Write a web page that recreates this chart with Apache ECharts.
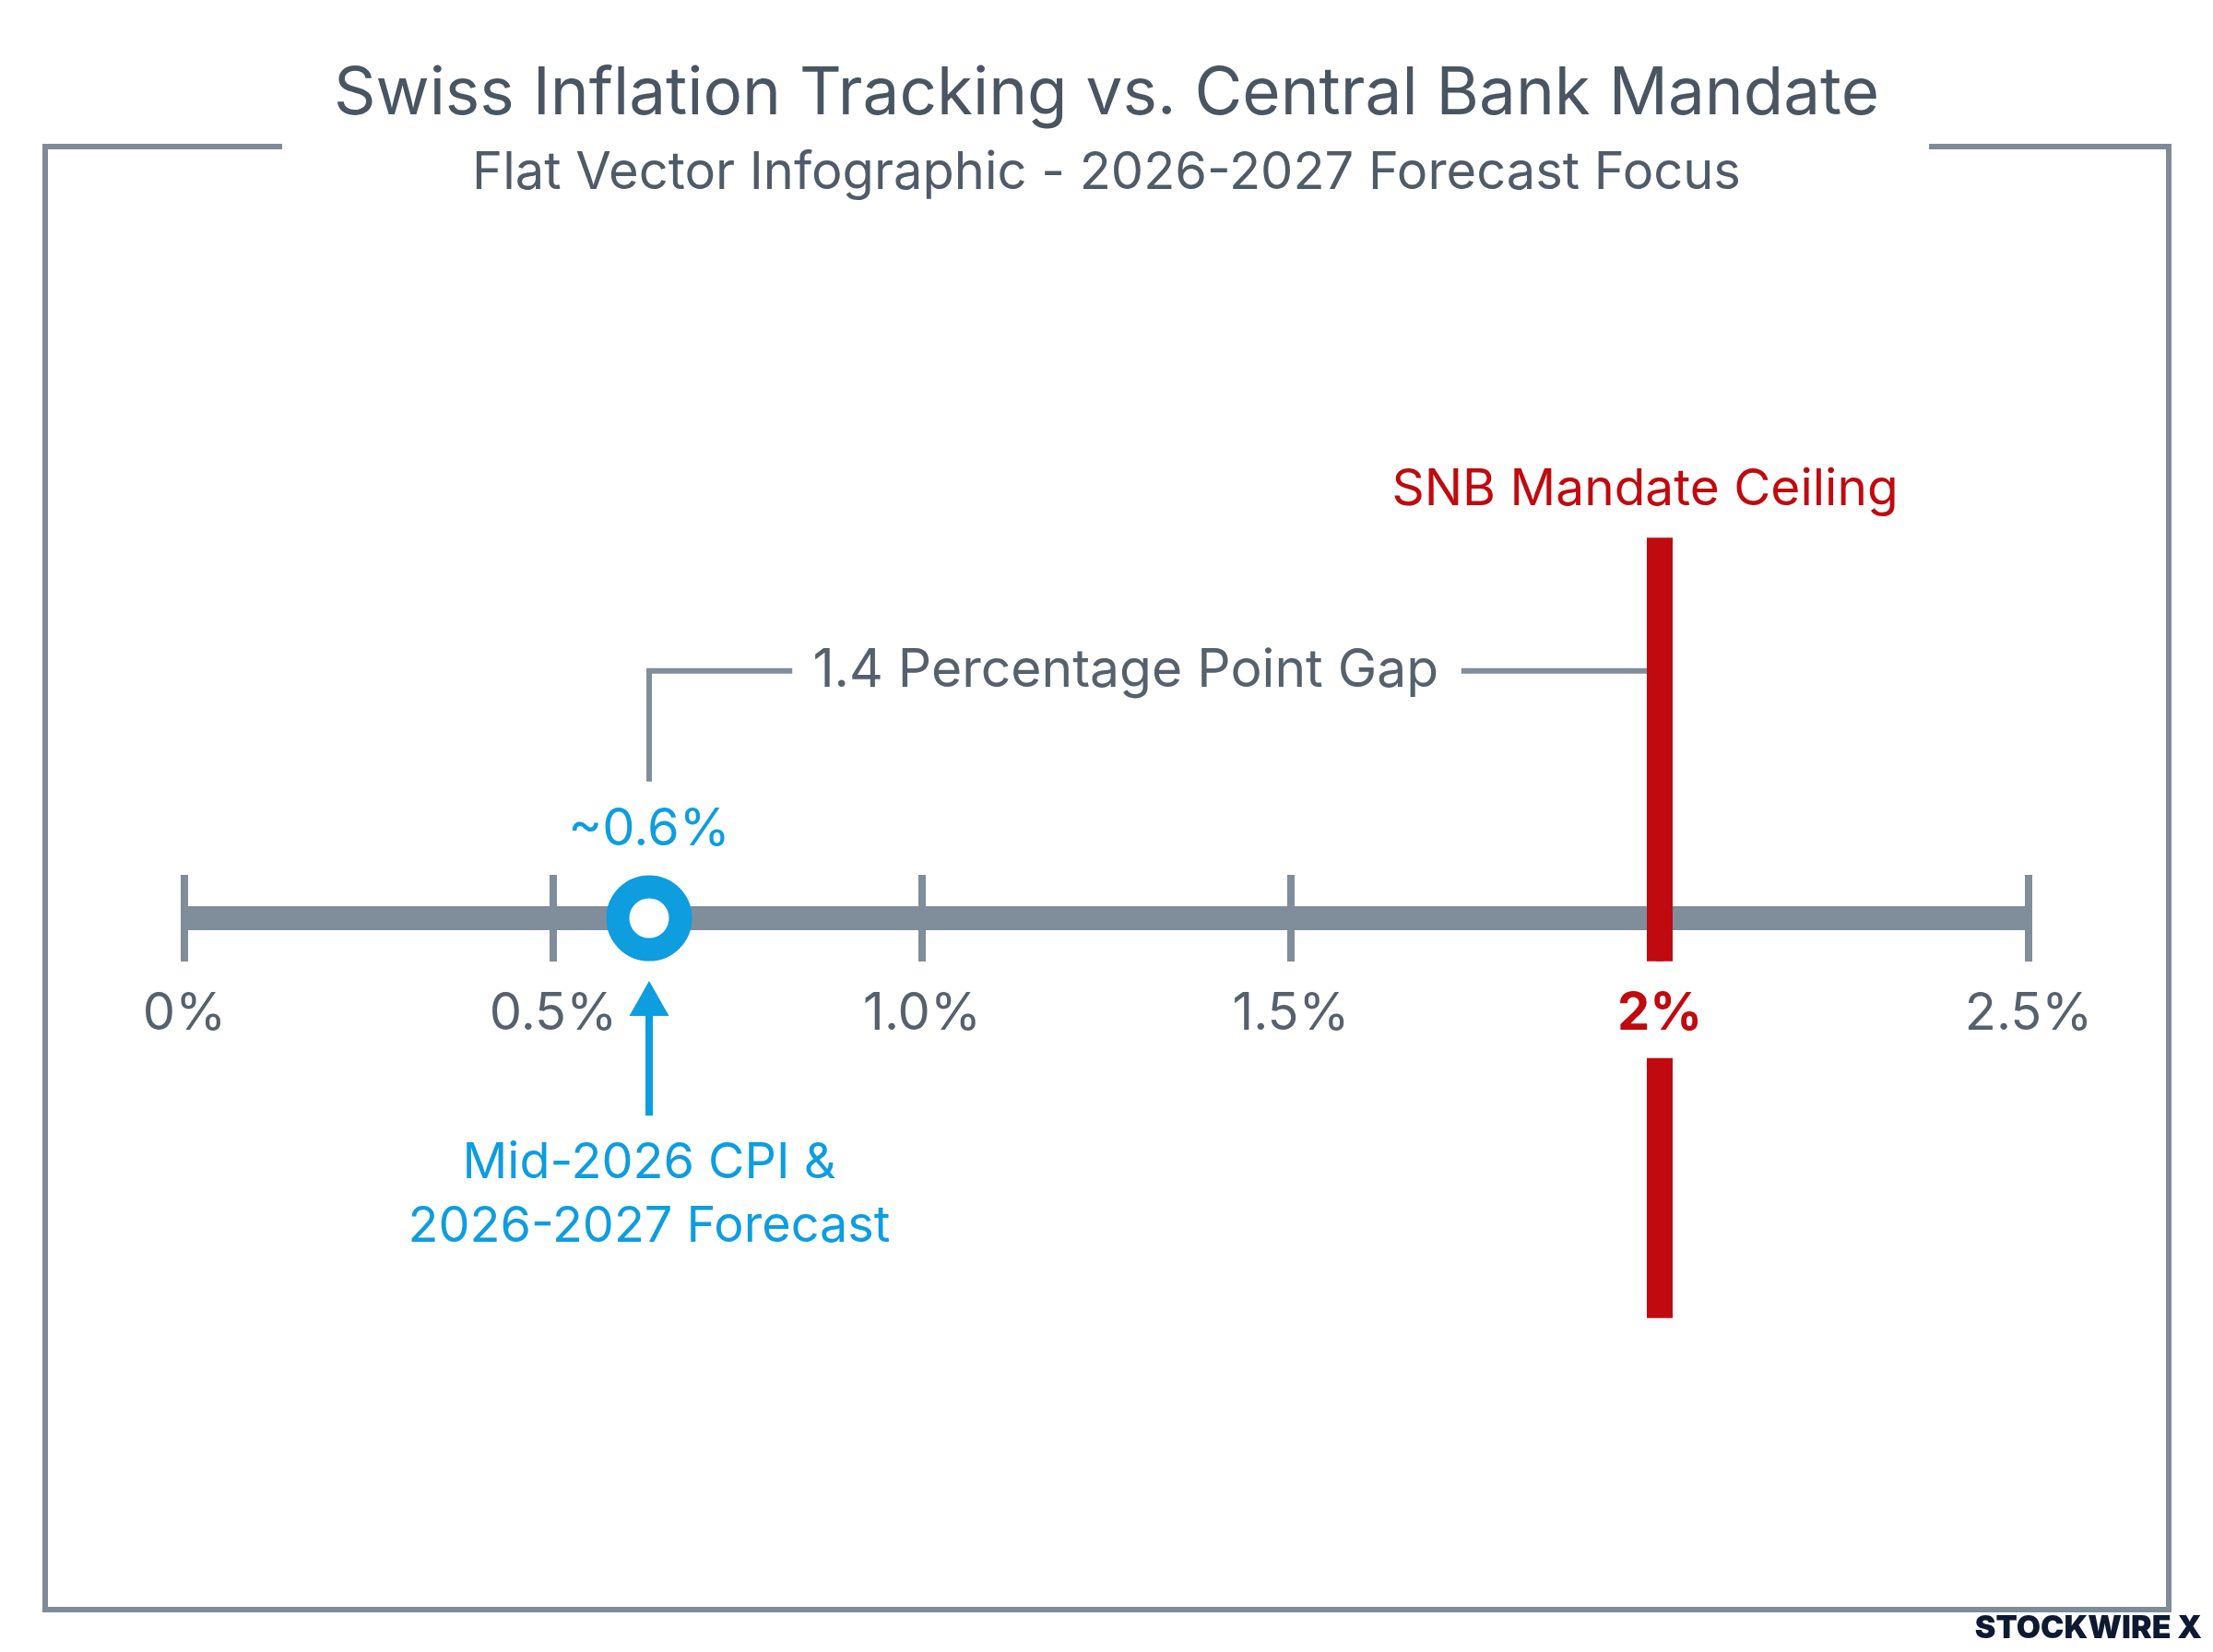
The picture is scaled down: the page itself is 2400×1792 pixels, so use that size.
<!DOCTYPE html>
<html lang="en">
<head>
    <meta charset="UTF-8">
    <title>Swiss Inflation Tracking</title>
    <script src="https://cdn.jsdelivr.net/npm/echarts@6/dist/echarts.min.js"></script>
    <style>
        html, body { margin: 0; padding: 0; background: #ffffff; }
        #main { width: 2400px; height: 1792px; }
    </style>
</head>
<body>
<div id="main"></div>
<script>
    // data
    var tickValues = [0, 0.5, 1.0, 1.5, 2.0, 2.5];
    var tickLabels = ["0%", "0.5%", "1.0%", "1.5%", "2%", "2.5%"];
    var cpiValue = 0.63;          // marker position on the scale
    var cpiLabel = "~0.6%";
    var mandateValue = 2.0;
    var gapLabel = "1.4 Percentage Point Gap";

    var GRAY = "#808d9a", TEXT = "#56616d", BLUE = "#0e9ddf", RED = "#c00a0f";
    var FONT = "Inter, 'Noto Sans', sans-serif";

    // vertical layout in y-units of the overlay grid (axis sits at 0)
    var redTop = 0.688, redMidA = -0.078, redMidB = -0.253, redBottom = -0.723;
    var gapY = 0.447, gapLow = 0.247;
    var gapTextX = 1.276, gapLeftEnd = 0.824, gapRightStart = 1.731;

    // every mark lives on the overlay grid (index 1)
    function onOverlay(s) { s.xAxisIndex = 1; s.yAxisIndex = 1; s.silent = true; return s; }

    var MyChart = echarts.init(document.getElementById("main"));
    var option = {
        backgroundColor: "#ffffff",
        textStyle: { fontFamily: FONT },
        title: [{
            text: "Swiss Inflation Tracking vs. Central Bank Mandate",
            left: "center", top: 62,
            textStyle: { fontSize: 71, fontWeight: "normal", color: "#4a5562", fontFamily: FONT }
        }, {
            text: "Flat Vector Infographic - 2026-2027 Forecast Focus",
            left: "center", top: 155,
            textStyle: { fontSize: 56, fontWeight: "normal", color: "#505b67", fontFamily: FONT }
        }],
        graphic: [{
            type: "polyline",
            shape: { points: [[306, 159], [49, 159], [49, 1746], [2352, 1746], [2352, 159], [2092, 159]] },
            style: { stroke: "#7f8b97", lineWidth: 6, fill: null }
        }, {
            type: "text",
            right: 12, bottom: 8,
            style: { text: "STOCKWIRE X", fontSize: 34, fontWeight: 900, fill: "#0e1a32", fontFamily: FONT }
        }],
        grid: [
            { left: 200, right: 200, top: 396, height: 600 },   // visible scale, bottom edge = axis
            { left: 200, right: 200, top: 396, height: 1200 }   // overlay for marks
        ],
        xAxis: [{
            gridIndex: 0, type: "value", min: 0, max: 2.5, interval: 0.5,
            splitLine: { show: false },
            axisTick: { show: false },
            axisLine: { lineStyle: { color: GRAY, width: 26, cap: "butt" } },
            axisLabel: {
                margin: 104, verticalAlign: "middle",
                fontSize: 56, color: TEXT, fontFamily: FONT,
                formatter: function (v) {
                    var s = tickLabels[Math.round(v / 0.5)];
                    return Math.abs(v - mandateValue) < 1e-9 ? "{r|" + s + "}" : s;
                },
                rich: { r: { fontSize: 56, fontWeight: "bold", color: RED, fontFamily: FONT } }
            }
        }, {
            gridIndex: 1, type: "value", min: 0, max: 2.5, interval: 0.5, show: false
        }],
        yAxis: [
            { gridIndex: 0, type: "value", min: 0, max: 1, show: false },
            { gridIndex: 1, type: "value", min: -1, max: 1, show: false }
        ],
        series: [
            // tick marks across the axis
            onOverlay({
                type: "scatter", z: 3,
                symbol: "rect", symbolSize: [8, 94],
                itemStyle: { color: GRAY, opacity: 1 },
                data: tickValues.map(function (v) { return [v, 0]; })
            }),
            // mandate ceiling bar, upper and lower parts
            onOverlay({
                type: "line", z: 4, symbol: "none",
                lineStyle: { color: RED, width: 28, cap: "butt" },
                data: [[mandateValue, redTop], [mandateValue, redMidA]]
            }),
            onOverlay({
                type: "line", z: 4, symbol: "none",
                lineStyle: { color: RED, width: 28, cap: "butt" },
                data: [[mandateValue, redMidB], [mandateValue, redBottom]],
                markPoint: {
                    symbol: "rect", symbolSize: 1, itemStyle: { color: "transparent" },
                    data: [{ coord: [mandateValue, 0.775] }],
                    label: {
                        show: true, formatter: "SNB Mandate Ceiling", offset: [-16, 0],
                        fontSize: 55, color: RED, fontFamily: FONT
                    }
                }
            }),
            // gap bracket
            onOverlay({
                type: "line", z: 3, symbol: "none",
                lineStyle: { color: GRAY, width: 6, cap: "butt", join: "miter" },
                data: [[cpiValue, gapLow], [cpiValue, gapY], [gapLeftEnd, gapY]]
            }),
            onOverlay({
                type: "line", z: 3, symbol: "none",
                lineStyle: { color: GRAY, width: 6, cap: "butt" },
                data: [[gapRightStart, gapY], [mandateValue - 0.0175, gapY]],
                markPoint: {
                    symbol: "rect", symbolSize: 1, itemStyle: { color: "transparent" },
                    data: [{ coord: [gapTextX, gapY] }],
                    label: { show: true, formatter: gapLabel, fontSize: 57, color: TEXT, fontFamily: FONT }
                }
            }),
            // arrow shaft
            onOverlay({
                type: "line", z: 3, symbol: "none",
                lineStyle: { color: BLUE, width: 8, cap: "butt" },
                data: [[cpiValue, -0.357], [cpiValue, -0.157]]
            }),
            // arrow head + caption
            onOverlay({
                type: "scatter", z: 3,
                symbol: "triangle", symbolSize: [43, 38],
                itemStyle: { color: BLUE, opacity: 1 },
                data: [[cpiValue, -0.145]],
                markPoint: {
                    symbol: "rect", symbolSize: 1, itemStyle: { color: "transparent" },
                    data: [{ coord: [cpiValue, -0.5] }],
                    label: {
                        show: true, formatter: "Mid-2026 CPI &\n2026-2027 Forecast",
                        fontSize: 54, lineHeight: 69, color: BLUE, align: "center", fontFamily: FONT
                    }
                }
            }),
            // CPI marker
            onOverlay({
                type: "scatter", z: 5,
                symbol: "circle", symbolSize: 68,
                itemStyle: { color: "#ffffff", borderColor: BLUE, borderWidth: 25, opacity: 1 },
                label: {
                    show: true, position: "inside", offset: [0, -96],
                    formatter: cpiLabel, fontSize: 56, color: BLUE, fontFamily: FONT
                },
                data: [[cpiValue, 0]]
            })
        ]
    };
    MyChart.setOption(option);
</script>
</body>
</html>
